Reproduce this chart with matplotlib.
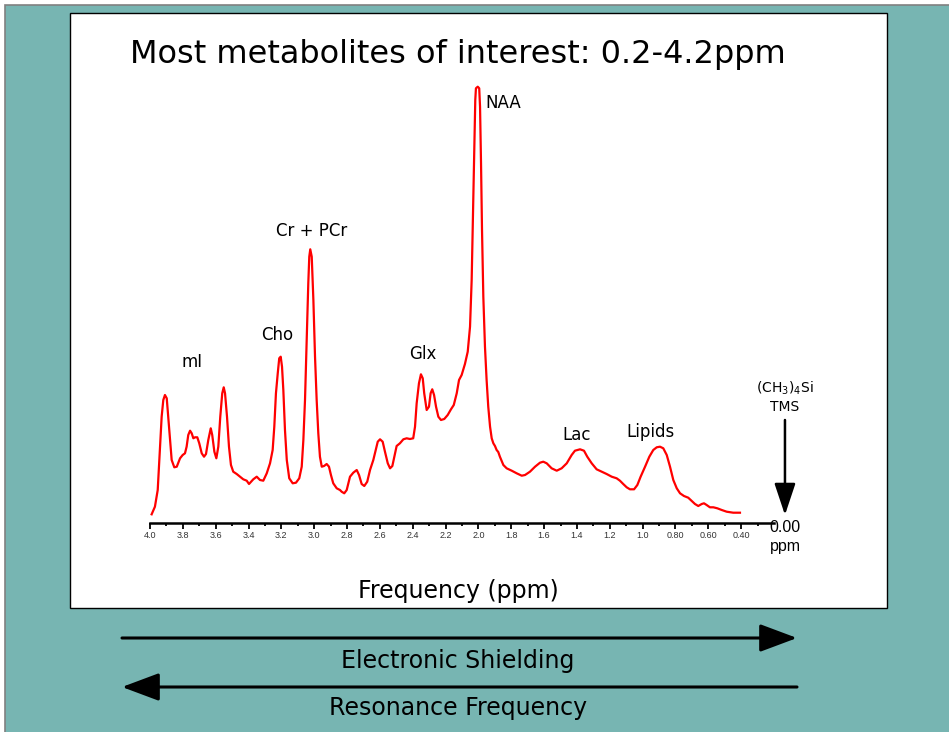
import matplotlib
matplotlib.use("Agg")
import matplotlib.pyplot as plt
from matplotlib.patches import Rectangle, FancyArrowPatch

# 1H MR spectrum of brain tissue, chemical shift (ppm) vs intensity (a.u.)
shift_ppm = [
    3.990, 3.970, 3.953, 3.939, 3.929, 3.919, 3.909, 3.898, 3.889, 3.878,
    3.868, 3.852, 3.837, 3.817, 3.801, 3.787, 3.777, 3.767, 3.756, 3.746,
    3.736, 3.726, 3.712, 3.700, 3.685, 3.671, 3.659, 3.645, 3.630, 3.621,
    3.608, 3.596, 3.584, 3.572, 3.560, 3.551, 3.543, 3.531, 3.519, 3.507,
    3.493, 3.472, 3.452, 3.432, 3.411, 3.397, 3.371, 3.350, 3.330, 3.310,
    3.289, 3.269, 3.253, 3.243, 3.233, 3.222, 3.213, 3.204, 3.196, 3.188,
    3.178, 3.167, 3.152, 3.131, 3.111, 3.091, 3.076, 3.066, 3.056, 3.046,
    3.036, 3.030, 3.024, 3.015, 3.005, 2.995, 2.985, 2.975, 2.965, 2.954,
    2.940, 2.924, 2.910, 2.898, 2.884, 2.863, 2.843, 2.833, 2.817, 2.802,
    2.782, 2.762, 2.741, 2.727, 2.711, 2.695, 2.677, 2.660, 2.640, 2.625,
    2.613, 2.599, 2.583, 2.569, 2.552, 2.538, 2.524, 2.512, 2.498, 2.478,
    2.457, 2.437, 2.417, 2.397, 2.386, 2.376, 2.362, 2.350, 2.339, 2.330,
    2.315, 2.301, 2.291, 2.281, 2.270, 2.258, 2.244, 2.228, 2.208, 2.187,
    2.167, 2.150, 2.132, 2.118, 2.102, 2.082, 2.065, 2.051, 2.041, 2.035,
    2.029, 2.023, 2.019, 2.015, 2.004, 1.995, 1.990, 1.984, 1.978, 1.970,
    1.960, 1.950, 1.940, 1.929, 1.919, 1.909, 1.899, 1.889, 1.879, 1.869,
    1.848, 1.828, 1.797, 1.767, 1.736, 1.716, 1.686, 1.655, 1.625, 1.605,
    1.584, 1.554, 1.523, 1.493, 1.462, 1.432, 1.412, 1.381, 1.357, 1.337,
    1.310, 1.280, 1.249, 1.219, 1.188, 1.158, 1.138, 1.118, 1.097, 1.077,
    1.052, 1.032, 1.012, 0.985, 0.959, 0.935, 0.914, 0.894, 0.874, 0.853,
    0.833, 0.813, 0.792, 0.772, 0.748, 0.722, 0.701, 0.681, 0.661, 0.640,
    0.626, 0.610, 0.590, 0.569, 0.545, 0.518, 0.488, 0.448, 0.407,
]
intensity = [
    8.7, 16.3, 33.0, 76.3, 106.3, 123.0, 128.0, 124.7, 106.3, 83.0,
    63.0, 55.7, 56.3, 64.7, 68.0, 69.7, 76.3, 88.0, 92.3, 89.7,
    84.7, 85.7, 85.7, 79.7, 69.7, 66.3, 69.0, 83.0, 94.7, 88.0,
    71.3, 64.7, 76.3, 106.3, 129.7, 135.7, 129.7, 106.3, 76.3, 58.0,
    51.3, 49.0, 46.3, 43.7, 42.3, 39.0, 43.7, 46.3, 43.0, 42.3,
    49.7, 59.7, 73.0, 96.3, 129.7, 149.7, 164.7, 166.3, 156.3, 133.0,
    93.0, 63.0, 44.7, 39.7, 40.3, 44.7, 56.3, 83.0, 123.0, 183.0,
    239.7, 266.3, 273.7, 266.3, 223.0, 166.3, 123.0, 89.7, 66.3, 56.3,
    57.0, 59.0, 56.3, 48.0, 39.7, 34.7, 33.0, 31.3, 29.7, 33.0,
    46.3, 50.3, 53.0, 48.0, 39.0, 37.0, 41.3, 53.0, 63.0, 73.0,
    81.3, 83.7, 81.3, 71.3, 59.7, 54.7, 57.0, 66.3, 77.0, 79.7,
    83.7, 84.7, 84.0, 84.7, 96.3, 119.7, 139.7, 148.7, 144.7, 129.7,
    113.0, 116.3, 129.7, 133.7, 128.0, 116.3, 106.3, 103.0, 104.0, 108.0,
    113.7, 118.0, 129.7, 143.0, 148.0, 159.0, 171.3, 196.3, 243.0, 293.0,
    343.0, 393.0, 423.0, 434.7, 436.3, 434.7, 416.3, 359.7, 293.0, 226.3,
    176.3, 143.0, 116.3, 96.3, 84.7, 79.7, 77.0, 73.0, 71.0, 66.3,
    58.0, 54.7, 52.3, 49.7, 47.3, 48.0, 51.3, 56.3, 60.3, 61.3,
    59.7, 54.7, 52.3, 54.7, 59.7, 68.0, 72.3, 73.7, 72.3, 66.3,
    59.7, 53.7, 51.3, 49.0, 46.3, 44.7, 42.3, 39.0, 35.7, 33.7,
    33.7, 38.0, 46.3, 56.3, 66.3, 73.0, 75.7, 76.3, 74.7, 68.0,
    56.3, 43.0, 34.7, 29.7, 27.0, 25.3, 22.0, 19.0, 17.0, 19.0,
    19.7, 18.0, 15.7, 15.7, 14.7, 13.0, 11.3, 10.3, 10.3,
]

# metabolite labels: (text, ppm, intensity)
peak_labels = [
    ("NAA", 1.850, 420),
    ("Cr + PCr", 3.013, 292),
    ("Cho", 3.227, 188),
    ("mI", 3.744, 161),
    ("Glx", 2.337, 169),
    ("Lac", 1.400, 88),
    ("Lipids", 0.949, 91),
]

major_ticks = [4.0, 3.8, 3.6, 3.4, 3.2, 3.0, 2.8, 2.6, 2.4, 2.2, 2.0,
               1.8, 1.6, 1.4, 1.2, 1.0, 0.8, 0.6, 0.4]
major_labels = ["4.0", "3.8", "3.6", "3.4", "3.2", "3.0", "2.8", "2.6", "2.4",
                "2.2", "2.0", "1.8", "1.6", "1.4", "1.2", "1.0", "0.80", "0.60", "0.40"]
minor_ticks = [3.9, 3.7, 3.5, 3.3, 3.1, 2.9, 2.7, 2.5, 2.3, 2.1, 1.9,
               1.7, 1.5, 1.3, 1.1, 0.9, 0.7, 0.5, 0.3]

# TMS reference drawn on a broken axis, just past the end of the scale
tms_pos = 0.133

W, H = 949, 732


def fx(px):
    return px / W


def fy(py):
    return 1 - py / H


fig = plt.figure(figsize=(W / 100, H / 100), dpi=100, facecolor="white")

# teal slide background and white plot panel
fig.patches.append(Rectangle((fx(4.5), -0.05), 1.1, fy(4.5) + 0.05,
                             transform=fig.transFigure, facecolor="#77b5b2",
                             edgecolor="#808080", lw=1.2, zorder=-2))
fig.patches.append(Rectangle((fx(70), fy(608)), fx(887) - fx(70), fy(13) - fy(608),
                             transform=fig.transFigure, facecolor="white",
                             edgecolor="black", lw=1.0, zorder=-1))

ax = fig.add_axes([fx(150), fy(523), fx(800) - fx(150), fy(80) - fy(523)])
ax.set_zorder(1)
ax.patch.set_alpha(0)

ax.plot(shift_ppm, intensity, color="red", lw=1.6, clip_on=False)

ax.set_xlim(4.0, 4.0 - 650 / 164.2)
ax.set_ylim(0, 443)
for side in ["left", "right", "top"]:
    ax.spines[side].set_visible(False)
ax.spines["bottom"].set_bounds(4.0, 0.2)
ax.spines["bottom"].set_linewidth(1.8)
ax.set_yticks([])

ax.set_xticks(major_ticks)
ax.set_xticklabels(major_labels, fontsize=6.5, family="Liberation Sans", color="#333333")
ax.set_xticks(minor_ticks, minor=True)
ax.tick_params(axis="x", which="major", direction="out", length=4, width=1.3, pad=2)
ax.tick_params(axis="x", which="minor", direction="out", length=2, width=1.3)

for name, ppm, y in peak_labels:
    ax.text(ppm, y, name, fontsize=12, ha="center", va="center", clip_on=False)

# TMS reference peak marker
ax.text(tms_pos, 135, r"(CH$_3$)$_4$Si", fontsize=10, ha="center", va="center")
ax.text(tms_pos, 116, "TMS", fontsize=10, ha="center", va="center")
ax.annotate("", xy=(tms_pos, 8), xytext=(tms_pos, 103),
            arrowprops=dict(arrowstyle="-|>,head_length=1.95,head_width=0.65",
                            mutation_scale=10, color="black", lw=1.8,
                            shrinkA=0, shrinkB=0))
ax.text(tms_pos, -4.5, "0.00", fontsize=11.5, family="Liberation Sans",
        ha="center", va="center", clip_on=False)
ax.text(tms_pos, -24, "ppm", fontsize=11.5, family="Liberation Sans",
        ha="center", va="center", clip_on=False)

fig.text(fx(458), fy(55), "Most metabolites of interest: 0.2-4.2ppm",
         fontsize=23, ha="center", va="center")
fig.text(fx(458), fy(591), "Frequency (ppm)", fontsize=17, ha="center", va="center")

# shielding / frequency direction arrows
for y0, start, end in [(638, 122, 797), (687, 797, 122)]:
    fig.patches.append(FancyArrowPatch(
        (fx(start), fy(y0)), (fx(end), fy(y0)), transform=fig.transFigure,
        arrowstyle="-|>,head_length=1.15,head_width=0.43", mutation_scale=20,
        color="black", lw=2.2, shrinkA=0, shrinkB=0, zorder=2))
fig.text(fx(458), fy(661), "Electronic Shielding", fontsize=17, ha="center", va="center")
fig.text(fx(458), fy(708), "Resonance Frequency", fontsize=17, ha="center", va="center")

fig.savefig("out.png", dpi=100, facecolor=fig.get_facecolor())
